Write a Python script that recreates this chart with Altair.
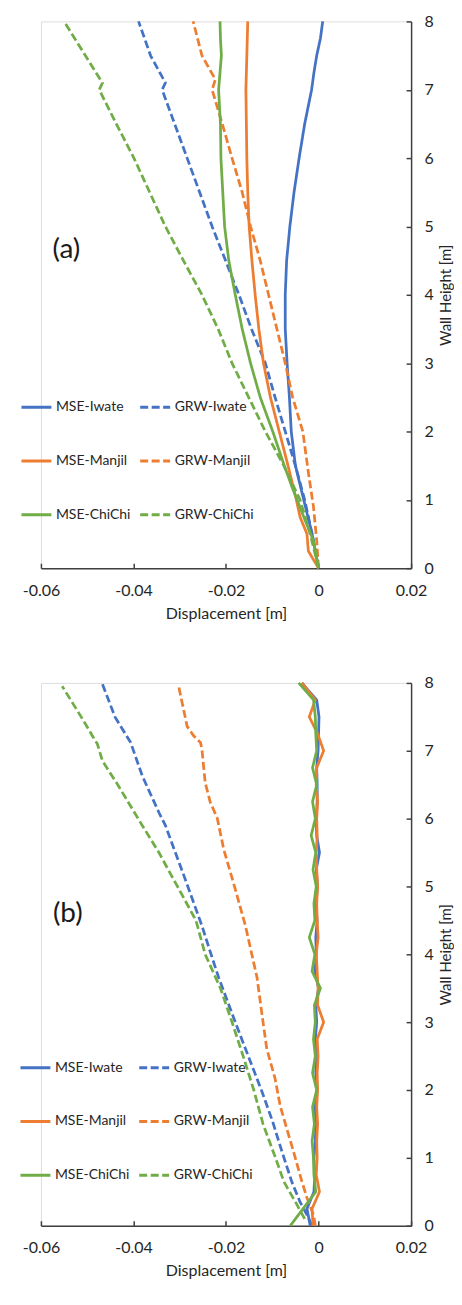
import altair as alt
import pandas as pd

# legend order (column-major grid): MSE column, then GRW column
SERIES = ["MSE-Iwate", "MSE-Manjil", "MSE-ChiChi", "GRW-Iwate", "GRW-Manjil", "GRW-ChiChi"]
COLORS = ["#4472C4", "#ED7D31", "#70AD47", "#4472C4", "#ED7D31", "#70AD47"]
DASHES = [[1, 0], [1, 0], [1, 0], [8, 3.5], [8, 3.5], [8, 3.5]]
X_TICKS = [-0.06, -0.04, -0.02, 0, 0.02]
Y_TICKS = [0, 1, 2, 3, 4, 5, 6, 7, 8]

# ---------------- panel (a) ----------------
A_MSE_IWATE_H = [0, 0.5, 1, 1.5, 2, 2.5, 3, 3.5, 4, 4.5, 5, 5.5, 6, 6.5, 7, 7.25, 7.5, 7.75, 8]
A_MSE_IWATE_X = [0, -0.0014, -0.0032, -0.0050, -0.0059, -0.0063, -0.0068, -0.0072, -0.0072, -0.0069,
                 -0.0062, -0.0053, -0.0042, -0.0030, -0.0015, -0.0010, -0.0004, 0.0004, 0.0009]
A_GRW_IWATE_H = [0, 0.5, 1, 1.5, 2, 2.5, 3, 3.5, 4, 4.5, 5, 5.5, 6, 6.5, 7, 7.1, 7.5, 8]
A_GRW_IWATE_X = [0, -0.0014, -0.0030, -0.0050, -0.0072, -0.0094, -0.0115, -0.0145, -0.0172, -0.0201,
                 -0.0230, -0.0257, -0.0284, -0.0311, -0.0338, -0.0331, -0.0363, -0.0389]
A_MSE_MANJIL_H = [0, 0.25, 0.5, 0.75, 1, 1.5, 2, 2.5, 3, 3.5, 4, 4.5, 5, 5.5, 6, 6.5, 7, 7.5, 8]
A_MSE_MANJIL_X = [0, -0.0022, -0.0025, -0.0040, -0.0048, -0.0066, -0.0085, -0.0104, -0.0119, -0.0129,
                  -0.0137, -0.0144, -0.0150, -0.0153, -0.0155, -0.0156, -0.0157, -0.0155, -0.0153]
A_GRW_MANJIL_H = [0, 0.4, 0.9, 1.4, 2.0, 2.5, 3, 3.5, 4, 4.5, 5, 5.5, 6, 6.5, 7, 7.15, 7.5, 8]
A_GRW_MANJIL_X = [0, -0.0004, -0.0011, -0.0022, -0.0034, -0.0056, -0.0072, -0.0090, -0.0108, -0.0126,
                  -0.0147, -0.0165, -0.0187, -0.0208, -0.0230, -0.0223, -0.0252, -0.0271]
A_MSE_CHICHI_H = [0, 0.4, 0.7, 1.2, 1.5, 2, 2.5, 3, 3.5, 4, 4.5, 5, 5.5, 6, 6.5, 7, 7.25, 7.5, 7.75, 8]
A_MSE_CHICHI_X = [0, -0.0011, -0.0029, -0.0058, -0.0074, -0.0099, -0.0126, -0.0147, -0.0165, -0.0180,
                  -0.0194, -0.0203, -0.0207, -0.0211, -0.0212, -0.0216, -0.0213, -0.0210, -0.0212, -0.0213]
A_GRW_CHICHI_H = [0, 0.5, 1, 1.5, 2, 2.5, 3, 3.5, 4, 4.5, 5, 5.5, 6, 6.5, 7, 7.1, 7.5, 8]
A_GRW_CHICHI_X = [0, -0.0018, -0.0040, -0.0075, -0.0115, -0.0151, -0.0187, -0.0217, -0.0252, -0.0292,
                  -0.0331, -0.0365, -0.0399, -0.0437, -0.0474, -0.0467, -0.0504, -0.0550]

# ---------------- panel (b) ----------------
B_STEP_H = [0, 0.25, 0.5, 0.75, 1, 1.25, 1.5, 1.75, 2, 2.25, 2.5, 2.75, 3, 3.25, 3.5, 3.75, 4,
            4.25, 4.5, 4.75, 5, 5.25, 5.5, 5.75, 6, 6.25, 6.5, 6.75, 7, 7.25, 7.5, 7.75, 8]
B_MSE_IWATE_X = [-0.0018, -0.0025, -0.0010, -0.0008, -0.0010, -0.0007, -0.0006, -0.0008, -0.0003, -0.0006,
                 -0.0005, -0.0007, -0.0004, -0.0006, 0.0000, -0.0008, -0.0005, -0.0006, -0.0003, -0.0006,
                 -0.0002, -0.0005, 0.0002, -0.0004, -0.0005, -0.0003, -0.0003, -0.0004, -0.0001, 0.0000,
                 0.0001, -0.0004, -0.0036]
B_GRW_IWATE_H = [0, 0.16, 0.35, 0.65, 1.09, 1.53, 1.97, 2.36, 3.0, 3.66, 3.93, 4.42, 5.16, 5.9, 6.09,
                 6.63, 7.12, 7.5, 8.0]
B_GRW_IWATE_X = [-0.0014, -0.0025, -0.0040, -0.0058, -0.0079, -0.0099, -0.0122, -0.0144, -0.0180, -0.0216,
                 -0.0229, -0.0252, -0.0291, -0.0331, -0.0345, -0.0381, -0.0406, -0.0440, -0.0468]
B_MSE_MANJIL_X = [-0.0012, -0.0014, 0.0002, -0.0005, -0.0003, -0.0004, -0.0002, -0.0004, -0.0002, -0.0003,
                  -0.0001, -0.0003, 0.0011, -0.0002, -0.0001, -0.0003, -0.0005, -0.0001, -0.0003, -0.0004,
                  -0.0002, -0.0004, -0.0005, -0.0003, -0.0004, -0.0002, -0.0005, -0.0004, 0.0011, -0.0002,
                  -0.0020, -0.0007, -0.0036]
B_GRW_MANJIL_H = [0, 0.16, 0.41, 0.65, 1.09, 1.58, 1.77, 2.17, 2.61, 3.1, 3.66, 3.93, 4.42, 4.96, 5.55,
                  6.01, 6.24, 6.53, 7.02, 7.12, 7.22, 7.36, 7.94]
B_GRW_MANJIL_X = [-0.0007, -0.0011, -0.0025, -0.0036, -0.0054, -0.0075, -0.0083, -0.0094, -0.0112, -0.0122,
                  -0.0133, -0.0142, -0.0158, -0.0180, -0.0205, -0.0219, -0.0234, -0.0245, -0.0252, -0.0255,
                  -0.0270, -0.0284, -0.0302]
B_MSE_CHICHI_H = [0, 0.5, 0.75, 1, 1.25, 1.5, 1.75, 2, 2.25, 2.5, 2.75, 3, 3.25, 3.5, 3.75, 4, 4.25,
                  4.5, 4.75, 5, 5.25, 5.5, 5.75, 6, 6.25, 6.5, 6.75, 7, 7.25, 7.5, 7.75, 8]
B_MSE_CHICHI_X = [-0.0061, -0.0006, -0.0010, -0.0011, -0.0014, -0.0009, -0.0013, -0.0004, -0.0013, -0.0007,
                  -0.0011, -0.0007, -0.0009, 0.0004, -0.0014, -0.0008, -0.0020, -0.0008, -0.0010, -0.0005,
                  -0.0012, -0.0006, -0.0016, -0.0007, -0.0013, -0.0004, -0.0013, -0.0004, -0.0006, -0.0007,
                  -0.0011, -0.0043]
B_GRW_CHICHI_H = [0.1, 0.35, 0.65, 1.0, 1.5, 2.0, 2.5, 3.0, 3.5, 4.0, 4.5, 5.0, 5.5, 6.0, 6.5, 6.85,
                  7.1, 7.2, 7.5, 7.95]
B_GRW_CHICHI_X = [-0.0030, -0.0050, -0.0075, -0.0093, -0.0120, -0.0140, -0.0163, -0.0187, -0.0212, -0.0245,
                  -0.0265, -0.0305, -0.0345, -0.0390, -0.0434, -0.0467, -0.0478, -0.0487, -0.0513, -0.0554]

PANEL_LABELS = ["(a)", "(b)"]
LABEL_X = [-0.0545, -0.0542]
LABEL_H = [4.66, 4.59]

FONT = "Lato"
TXT = "#262626"
AX = "#404040"
W = 371


def build_frame(series_list):
    rows = []
    for name, hs, xs in series_list:
        for i, (h, x) in enumerate(zip(hs, xs)):
            rows.append({"series": name, "disp": x, "h": h, "idx": i})
    return pd.DataFrame(rows)


df_a = build_frame([
    ("MSE-Iwate", A_MSE_IWATE_H, A_MSE_IWATE_X),
    ("GRW-Iwate", A_GRW_IWATE_H, A_GRW_IWATE_X),
    ("MSE-Manjil", A_MSE_MANJIL_H, A_MSE_MANJIL_X),
    ("GRW-Manjil", A_GRW_MANJIL_H, A_GRW_MANJIL_X),
    ("MSE-ChiChi", A_MSE_CHICHI_H, A_MSE_CHICHI_X),
    ("GRW-ChiChi", A_GRW_CHICHI_H, A_GRW_CHICHI_X),
])
df_b = build_frame([
    ("MSE-Iwate", B_STEP_H, B_MSE_IWATE_X),
    ("GRW-Iwate", B_GRW_IWATE_H, B_GRW_IWATE_X),
    ("MSE-Manjil", B_STEP_H, B_MSE_MANJIL_X),
    ("GRW-Manjil", B_GRW_MANJIL_H, B_GRW_MANJIL_X),
    ("MSE-ChiChi", B_MSE_CHICHI_H, B_MSE_CHICHI_X),
    ("GRW-ChiChi", B_GRW_CHICHI_H, B_GRW_CHICHI_X),
])

LABEL_EXPR = "datum.value == 0 ? '0' : (datum.value < 0 ? '-' : '') + format(abs(datum.value), '.2f')"


def panel(df, k, H, legend_x, legend_y):
    xs = alt.Scale(domain=[-0.06, 0.02], nice=False, zero=False)
    ys = alt.Scale(domain=[0, 8], nice=False)
    leg = alt.Legend(orient="none", legendX=legend_x, legendY=legend_y, columns=2, title=None,
                     symbolType="stroke", symbolSize=900, symbolStrokeWidth=3,
                     labelFont=FONT, labelFontSize=14, labelColor=TXT, labelOffset=3,
                     rowPadding=30, columnPadding=3, labelLimit=200)
    lines = alt.Chart(df).mark_line(strokeWidth=2.75).encode(
        x=alt.X("disp:Q", scale=xs,
                axis=alt.Axis(values=X_TICKS, labelExpr=LABEL_EXPR, ticks=False, domain=False, grid=False,
                              labelFlush=False, title="Displacement [m]", labelFont=FONT, labelFontSize=16,
                              labelColor=TXT, titleFont=FONT, titleFontSize=16, titleFontWeight="normal",
                              titleColor=TXT, labelPadding=14, titlePadding=7)),
        y=alt.Y("h:Q", scale=ys,
                axis=alt.Axis(orient="right", values=Y_TICKS, ticks=False, domain=False, grid=False,
                              title="Wall Height [m]", titleAngle=270, titleBaseline="top",
                              labelFont=FONT, labelFontSize=16, labelFlush=False,
                              labelColor=TXT, titleFont=FONT, titleFontSize=15, titleFontWeight="normal",
                              titleColor=TXT, labelPadding=13, titlePadding=5)),
        color=alt.Color("series:N", scale=alt.Scale(domain=SERIES, range=COLORS), legend=leg),
        strokeDash=alt.StrokeDash("series:N", scale=alt.Scale(domain=SERIES, range=DASHES), legend=leg),
        order=alt.Order("idx:Q"),
    )
    frame = alt.Chart(df).mark_line(opacity=0).encode(
        x=alt.X("disp:Q", scale=xs,
                axis=alt.Axis(orient="top", offset=-H, values=X_TICKS, labels=False, title=None, grid=False,
                              ticks=True, tickSize=5, tickWidth=1.5, tickColor=AX, domain=True,
                              domainColor=AX, domainWidth=1.5)),
        y=alt.Y("h:Q", scale=ys,
                axis=alt.Axis(orient="left", offset=-W, values=Y_TICKS, labels=False, title=None, grid=False,
                              ticks=True, tickSize=5, tickWidth=1.5, tickColor=AX, domain=True,
                              domainColor=AX, domainWidth=1.5)),
        detail="series:N",
    )
    lab = alt.Chart(pd.DataFrame({"x": [LABEL_X[k]], "h": [LABEL_H[k]], "t": [PANEL_LABELS[k]]})).mark_text(
        font=FONT, fontSize=28, color="#1a1a1a").encode(
        x=alt.X("x:Q", scale=xs, axis=None),
        y=alt.Y("h:Q", scale=ys, axis=None),
        text="t:N",
    )
    return alt.layer(frame, lines, lab).resolve_axis(x="independent", y="independent").properties(
        width=W, height=H)


pa = panel(df_a, 0, 548, -21, 370)
pb = panel(df_b, 1, 544, -22, 369)

chart = alt.vconcat(pa, pb, spacing=52).resolve_scale(
    color="independent", strokeDash="independent"
).properties(
    padding={"left": 10, "top": 3, "right": 0, "bottom": 5}
).configure_view(stroke=None).configure(background="white")

chart.save("out.html", embed_options={"renderer": "svg", "actions": False})
